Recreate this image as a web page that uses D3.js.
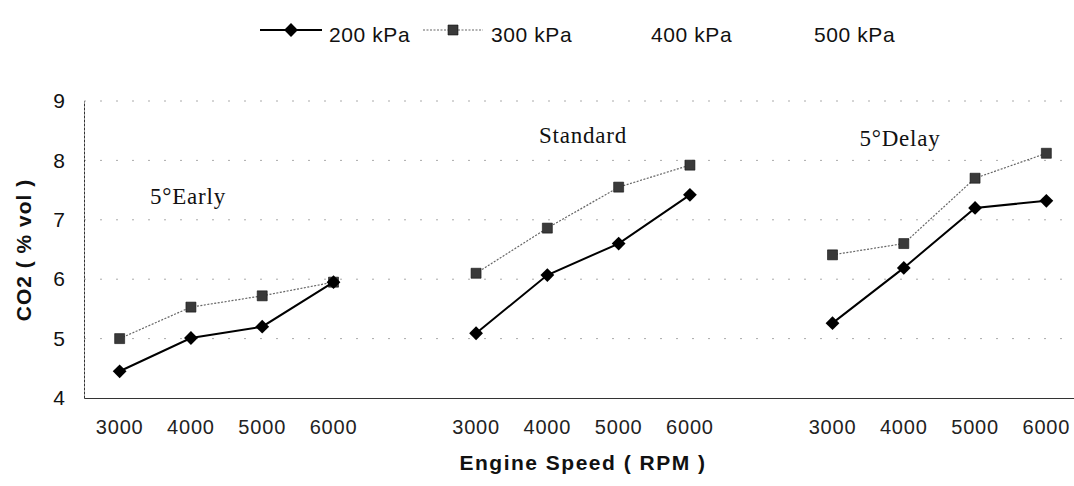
<!DOCTYPE html>
<html>
<head>
<meta charset="utf-8">
<script src="https://cdn.jsdelivr.net/npm/d3@7"></script>
<style>
  html, body { margin: 0; padding: 0; background: #fff; }
  svg { display: block; }
</style>
</head>
<body>
<svg id="chart" width="1074" height="486"></svg>
<script>
// ---- data ----
const groups = ["5°Early", "Standard", "5°Delay"];
const speeds = ["3000", "4000", "5000", "6000"];
const yTicks = [4, 5, 6, 7, 8, 9];
const seriesNames = ["200 kPa", "300 kPa", "400 kPa", "500 kPa"];
const kpa200 = [
  [4.45, 5.01, 5.2, 5.95],   // 5°Early
  [5.09, 6.07, 6.6, 7.42],   // Standard
  [5.26, 6.19, 7.2, 7.32]    // 5°Delay
];
const kpa300 = [
  [5.0, 5.53, 5.72, 5.95],
  [6.1, 6.86, 7.55, 7.92],
  [6.41, 6.6, 7.7, 8.12]
];

// ---- layout ----
const svg = d3.select("#chart");
const plotLeft = 84, plotRight = 1082, plotTop = 101, plotBottom = 398;
const sans = "Liberation Sans, Arial, sans-serif";

// slots: 4 speeds per group, one blank slot between groups
const slots = [];
groups.forEach((g, gi) => {
  speeds.forEach(s => slots.push({ key: gi + "_" + s, label: s }));
  if (gi < groups.length - 1) slots.push({ key: "gap" + gi, label: "" });
});
const x = d3.scaleBand().domain(slots.map(d => d.key)).range([plotLeft, plotRight]).padding(0);
const cx = k => x(k) + x.bandwidth() / 2;
const y = d3.scaleLinear().domain([4, 9]).range([plotBottom, plotTop]);

// grid lines
svg.append("g").selectAll("line").data(yTicks.slice(1)).join("line")
  .attr("x1", plotLeft).attr("x2", plotRight)
  .attr("y1", d => y(d)).attr("y2", d => y(d))
  .attr("stroke", "#aaa").attr("stroke-width", 1)
  .attr("stroke-dasharray", "2,14");

// y axis
const yAxis = svg.append("g").attr("transform", `translate(${plotLeft},0)`)
  .call(d3.axisLeft(y).tickValues(yTicks).tickSize(0).tickPadding(19).tickFormat(d3.format("d")));
yAxis.select(".domain").attr("stroke", "#333").attr("stroke-dasharray", "3,1").attr("stroke-width", 1);
yAxis.selectAll("text").attr("font-family", sans)
  .attr("font-size", 21).attr("fill", "#111");

// x axis
const xAxis = svg.append("g").attr("transform", `translate(0,${plotBottom})`)
  .call(d3.axisBottom(x).tickSize(0).tickSizeOuter(0).tickPadding(22)
    .tickFormat(k => (slots.find(s => s.key === k) || {}).label));
xAxis.select(".domain").attr("stroke", "#333").attr("stroke-width", 1);
xAxis.selectAll("text").attr("font-family", sans)
  .attr("font-size", 20).attr("letter-spacing", 0.8).attr("fill", "#222");

// axis titles
svg.append("text").attr("x", 583).attr("y", 470).attr("text-anchor", "middle")
  .attr("font-family", sans).attr("font-weight", "bold")
  .attr("font-size", 21).attr("letter-spacing", 1.5).attr("fill", "#111")
  .text("Engine Speed ( RPM )");
svg.append("text").attr("transform", "translate(31,250) rotate(-90)").attr("text-anchor", "middle")
  .attr("font-family", sans).attr("font-weight", "bold")
  .attr("font-size", 21).attr("letter-spacing", 1).attr("fill", "#111")
  .text("CO2 ( % vol )");

// group labels
const groupLabelPos = [[188, 204], [583, 143], [900, 146]];
groups.forEach((g, gi) => {
  svg.append("text").attr("x", groupLabelPos[gi][0]).attr("y", groupLabelPos[gi][1])
    .attr("text-anchor", "middle")
    .attr("font-family", "Liberation Serif, Times New Roman, serif")
    .attr("font-size", 23).attr("letter-spacing", 0.8).attr("fill", "#111")
    .text(g);
});

// series
const line = d3.line().x(d => cx(d.key)).y(d => y(d.v));
const diamond = d3.symbol().type(d3.symbolSquare).size(95);
const square = d3.symbol().type(d3.symbolSquare).size(100);

groups.forEach((g, gi) => {
  const p300 = speeds.map((s, i) => ({ key: gi + "_" + s, v: kpa300[gi][i] }));
  const p200 = speeds.map((s, i) => ({ key: gi + "_" + s, v: kpa200[gi][i] }));

  svg.append("path").datum(p300).attr("d", line).attr("fill", "none")
    .attr("stroke", "#666").attr("stroke-width", 1.2).attr("stroke-dasharray", "2,1.5");
  svg.append("g").selectAll("path").data(p300).join("path")
    .attr("d", square).attr("transform", d => `translate(${cx(d.key)},${y(d.v)})`)
    .attr("fill", "#3a3a3a").attr("stroke", "#111").attr("stroke-width", 0.6);

  svg.append("path").datum(p200).attr("d", line).attr("fill", "none")
    .attr("stroke", "#000").attr("stroke-width", 2);
  svg.append("g").selectAll("path").data(p200).join("path")
    .attr("d", diamond).attr("transform", d => `translate(${cx(d.key)},${y(d.v)}) rotate(45)`)
    .attr("fill", "#000");
});

// legend
const lg = svg.append("g");
const legendItems = [
  { name: seriesNames[0], x1: 260, x2: 322, tx: 329, type: "d" },
  { name: seriesNames[1], x1: 423, x2: 483, tx: 491, type: "s" },
  { name: seriesNames[2], x1: 590, x2: 645, tx: 651, type: "n" },
  { name: seriesNames[3], x1: 760, x2: 810, tx: 814, type: "n" }
];
legendItems.forEach(it => {
  const ly = 30;
  if (it.type === "d") {
    lg.append("line").attr("x1", it.x1).attr("x2", it.x2).attr("y1", ly).attr("y2", ly)
      .attr("stroke", "#000").attr("stroke-width", 2);
    lg.append("path").attr("d", diamond).attr("transform", `translate(${(it.x1 + it.x2) / 2},${ly}) rotate(45)`).attr("fill", "#000");
  } else if (it.type === "s") {
    lg.append("line").attr("x1", it.x1).attr("x2", it.x2).attr("y1", ly).attr("y2", ly)
      .attr("stroke", "#666").attr("stroke-width", 1.2).attr("stroke-dasharray", "2,1.5");
    lg.append("path").attr("d", square).attr("transform", `translate(${(it.x1 + it.x2) / 2},${ly})`)
      .attr("fill", "#3a3a3a").attr("stroke", "#111").attr("stroke-width", 0.6);
  }
  lg.append("text").attr("x", it.tx).attr("y", 42)
    .attr("font-family", sans)
    .attr("font-size", 21).attr("letter-spacing", 0.6).attr("fill", "#111")
    .text(it.name);
});
</script>
</body>
</html>
